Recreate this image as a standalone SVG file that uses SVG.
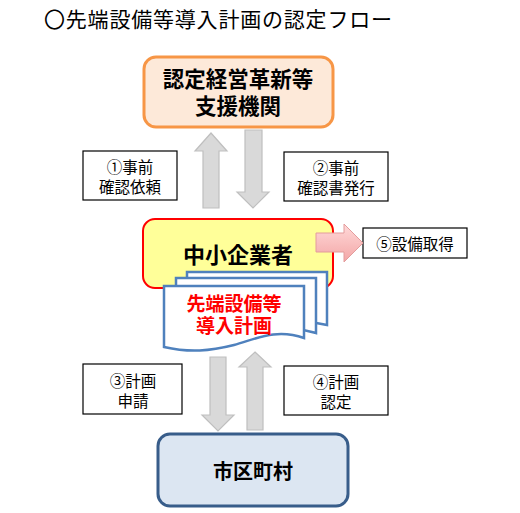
<svg xmlns="http://www.w3.org/2000/svg" width="520" height="513" viewBox="0 0 520 513">
<style>
text{font-family:"Noto Sans CJK JP","Noto Sans",sans-serif;text-anchor:middle;fill:#000}
.b{font-weight:bold}
.lbl{fill:#fff;stroke:#000;stroke-width:1.2}
.lt{font-size:15.5px}
.ga{fill:#d9d9d9;stroke:#bfbfbf;stroke-width:1.2}
.doc{fill:#fff;stroke:#4f81bd;stroke-width:2.5}
</style>
<defs>
<linearGradient id="rg" x1="0" y1="0" x2="0" y2="1">
<stop offset="0" stop-color="#ffd9d9"/>
<stop offset="1" stop-color="#f3a6a6"/>
</linearGradient>
</defs>
<rect width="520" height="513" fill="#fff"/>
<text x="44" y="27" style="text-anchor:start;font-size:21px;letter-spacing:0.8px">〇先端設備等導入計画の認定フロー</text>

<g id="shien">
<rect x="144" y="57" width="189" height="70" rx="12" fill="#fde9d9" stroke="#f79646" stroke-width="3"/>
<text x="238" y="87" class="b" font-size="21.5">認定経営革新等</text>
<text x="238" y="114" class="b" font-size="21.5">支援機関</text>
</g>

<g id="label1">
<rect x="83" y="151" width="94" height="49" class="lbl"/>
<text x="130" y="173" class="lt">①事前</text>
<text x="130" y="193" class="lt">確認依頼</text>
</g>

<g id="label2">
<rect x="284" y="152" width="104" height="49" class="lbl"/>
<text x="336" y="174" class="lt">②事前</text>
<text x="336" y="194" class="lt">確認書発行</text>
</g>

<g id="chusho">
<rect x="143" y="219" width="190" height="69" rx="12" fill="#ffff99" stroke="#ff0000" stroke-width="2"/>
<text x="238" y="263" class="b" font-size="22">中小企業者</text>
</g>

<g id="plan">
<path class="doc" d="M187,272 H327 V325 C300,318 280,326 260,330 L187,330 Z"/>
<path class="doc" d="M176,278 H316 V333 C290,325 270,334 250,338 L176,338 Z"/>
<path class="doc" d="M164,286 H304 V338 C276,328 256,339 234,345 C210,351 190,353 164,347 Z"/>
<text x="234" y="311" class="b" font-size="19" style="fill:#ff0000">先端設備等</text>
<text x="234" y="333" class="b" font-size="19" style="fill:#ff0000">導入計画</text>
</g>

<g id="label5">
<rect x="363" y="228" width="104" height="30" class="lbl"/>
<text x="415" y="250" class="lt">⑤設備取得</text>
</g>

<g id="label3">
<rect x="83" y="364" width="99" height="50" class="lbl"/>
<text x="133" y="387" class="lt">③計画</text>
<text x="133" y="407" class="lt">申請</text>
</g>

<g id="label4">
<rect x="284" y="366" width="104" height="49" class="lbl"/>
<text x="336" y="388" class="lt">④計画</text>
<text x="336" y="408" class="lt">認定</text>
</g>

<g id="shikuchoson">
<rect x="158" y="434" width="190" height="72" rx="12" fill="#dce6f2" stroke="#385d8a" stroke-width="3"/>
<text x="253" y="479" class="b" font-size="20">市区町村</text>
</g>

<g id="connectors">
<polygon class="ga" points="211,133 227,151 219,151 219,208 203,208 203,151 195,151"/>
<polygon class="ga" points="245,130 262,130 262,192 269,192 253,208 237,192 245,192"/>
<polygon fill="url(#rg)" stroke="#e39c9c" stroke-width="1" points="316,233 344,233 344,224 363,243 344,262 344,252 316,252"/>
<polygon class="ga" points="210,357 226,357 226,415 234,415 218,431 202,415 210,415"/>
<polygon class="ga" points="255,352 271,367 263,367 263,430 247,430 247,367 239,367"/>
</g>
</svg>
